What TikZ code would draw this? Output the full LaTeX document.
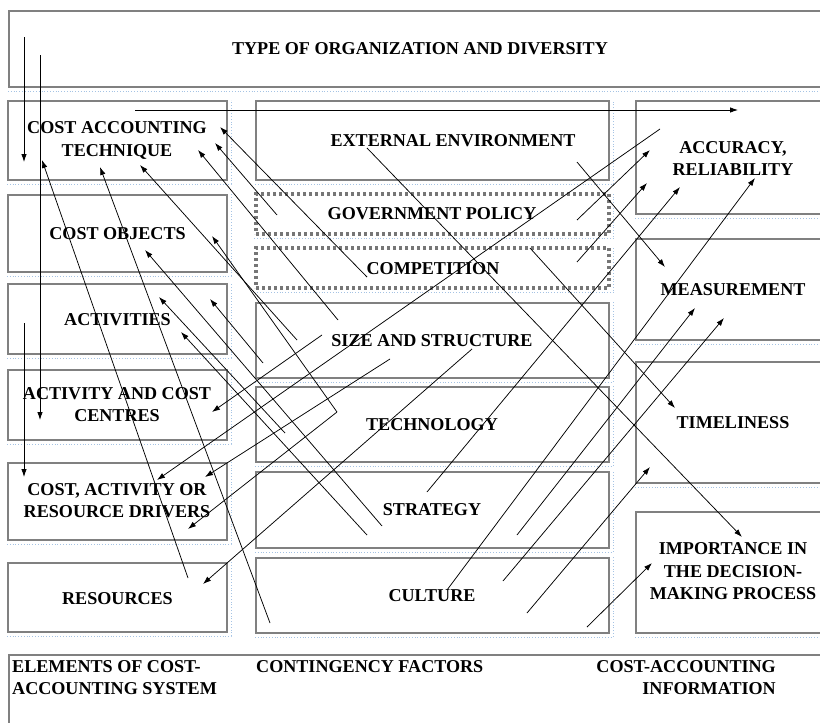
\documentclass[tikz,border=0pt]{standalone}
\usepackage{fontspec}
\setmainfont{Liberation Serif}
\usetikzlibrary{arrows.meta}
\definecolor{boxgray}{RGB}{128,128,128}
\definecolor{dotgray}{RGB}{118,118,118}
\definecolor{shadeblue}{RGB}{165,195,228}

\begin{document}
\begin{tikzpicture}[x=1pt,y=-1pt,
    box/.style={draw=boxgray,line width=2pt,inner sep=0pt},
    dotbox/.style={box,draw=dotgray,line width=3.2pt,dash pattern=on 3pt off 3pt},
    shade/.style={draw=shadeblue,line width=0.8pt,dotted},
    txt/.style={font=\fontsize{18.1}{22.5}\selectfont\bfseries,align=center,inner sep=0pt},
    arr/.style={-{Latex[length=8pt,width=5.5pt]},line width=0.75pt}]
  \useasboundingbox (0,0) rectangle (820,723);
  \clip (0,0) rectangle (820,723);
  \fill[white] (0,0) rectangle (820,723);

  % outer frames
  \node[box,minimum width=821,minimum height=76] (top) at (419.5,49) {};
  \node[box,minimum width=821,minimum height=85] (bottom) at (419.5,697.5) {};

  % elements of the cost-accounting system
  \node[box,minimum width=219,minimum height=79] (cat) at (117.5,140.5) {};
  \node[box,minimum width=219,minimum height=77] (cobj) at (117.5,233.5) {};
  \node[box,minimum width=219,minimum height=70] (act) at (117.5,319) {};
  \node[box,minimum width=219,minimum height=70] (acc) at (117.5,405) {};
  \node[box,minimum width=219,minimum height=77] (drv) at (117.5,501.5) {};
  \node[box,minimum width=219,minimum height=69] (res) at (117.5,597.5) {};

  % contingency factors
  \node[box,minimum width=353,minimum height=79] (env) at (432.5,140.5) {};
  \node[dotbox,minimum width=353,minimum height=40] (gov) at (432.5,214) {};
  \node[dotbox,minimum width=353,minimum height=40] (comp) at (432.5,268) {};
  \node[box,minimum width=353,minimum height=75] (size) at (432.5,340.5) {};
  \node[box,minimum width=353,minimum height=75] (tech) at (432.5,424.5) {};
  \node[box,minimum width=353,minimum height=76] (strat) at (432.5,510) {};
  \node[box,minimum width=353,minimum height=75] (cult) at (432.5,595.5) {};

  % cost-accounting information
  \node[box,minimum width=194,minimum height=113] (accu) at (733,157.5) {};
  \node[box,minimum width=194,minimum height=101] (meas) at (733,289.5) {};
  \node[box,minimum width=194,minimum height=121] (time) at (733,422.5) {};
  \node[box,minimum width=194,minimum height=121] (imp) at (733,572.5) {};

  \foreach \b in {top,cat,cobj,act,acc,drv,res,env,gov,comp,size,tech,strat,cult,accu,meas,time,imp}
    \draw[shade] ([yshift=-3pt]\b.south west) -- ([xshift=3pt,yshift=-3pt]\b.south east)
      -- ([xshift=3pt]\b.north east);

  % labels
  \node[txt] (ltop) at (420,49) {TYPE OF ORGANIZATION AND DIVERSITY};
  \node[txt] (lcat) at (117,140.5) {COST ACCOUNTING\\TECHNIQUE};
  \node[txt] (lcobj) at (117.5,234) {COST OBJECTS};
  \node[txt] (lact) at (117.5,320) {ACTIVITIES};
  \node[txt] (lacc) at (117,404.5) {ACTIVITY AND COST\\CENTRES};
  \node[txt] (ldrv) at (117,500.5) {COST, ACTIVITY OR\\RESOURCE DRIVERS};
  \node[txt] (lres) at (117.5,598.5) {RESOURCES};
  \node[txt] (lenv) at (453,141) {EXTERNAL ENVIRONMENT};
  \node[txt] (lgov) at (432,214) {GOVERNMENT POLICY};
  \node[txt] (lcomp) at (433,268.5) {COMPETITION};
  \node[txt] (lsize) at (432,341) {SIZE AND STRUCTURE};
  \node[txt] (ltech) at (432,425) {TECHNOLOGY};
  \node[txt] (lstrat) at (432,510) {STRATEGY};
  \node[txt] (lcult) at (432,596) {CULTURE};
  \node[txt] (laccu) at (733,158.5) {ACCURACY,\\RELIABILITY};
  \node[txt] (lmeas) at (733,289.5) {MEASUREMENT};
  \node[txt] (ltime) at (733,423) {TIMELINESS};
  \node[txt] (limp) at (733,571.5) {IMPORTANCE IN\\THE DECISION-\\MAKING PROCESS};
  \node[txt,align=left,anchor=north west] (lelem) at (12,660) {ELEMENTS OF COST-\\ACCOUNTING SYSTEM};
  \node[txt,anchor=north west] (lcont) at (256,660) {CONTINGENCY FACTORS};
  \node[txt,align=right,anchor=north east] (linfo) at (776,660) {COST-ACCOUNTING\\INFORMATION};

  % arrows
  \foreach \i/\sx/\sy/\tx/\ty in {
      1/24/37/24/162, 2/40/55/40/420, 3/24/323/24/477, 4/135/110/738/110,
      5/367/277/220/127, 6/277/215/215/143, 7/338/320/198/150, 8/297/340/140/165,
      9/270/623/100/167, 10/188/578/42/160, 11/337/412/212/236, 12/382/526/145/250,
      13/285/433/159/297, 14/263/363/210/299, 15/367/535/181/332, 16/322/335/212/412,
      17/660/129/157/480, 18/390/359/205/477, 19/337/412/188/529, 20/472/349/203/584,
      21/577/220/650/150, 22/577/262/647/183, 23/427/492/680/187, 24/447/590/755/178,
      25/517/535/695/308, 26/503/581/724/318, 27/527/613/650/467, 28/587/627/652/563,
      29/577/162/665/267, 30/530/248/675/408, 31/367/148/742/537} {
    \coordinate (s\i) at (\sx,\sy);
    \coordinate (t\i) at (\tx,\ty);
    \draw[arr] (s\i) -- (t\i);
  }
\end{tikzpicture}
\end{document}
